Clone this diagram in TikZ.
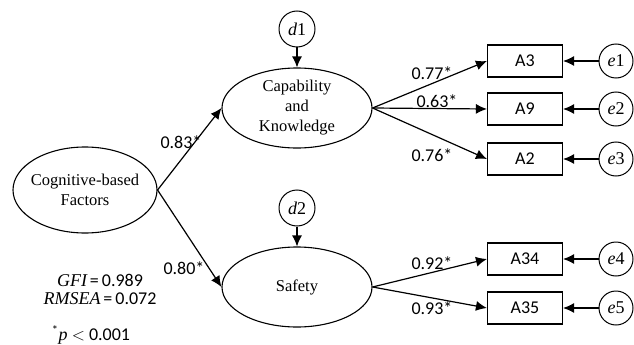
\documentclass[tikz,border=0pt]{standalone}
\usepackage{fontspec}
\setmainfont{Liberation Serif}
\newfontfamily\numfont{Carlito}
\usetikzlibrary{arrows.meta,shapes.geometric}

\tikzset{
  latent/.style={draw, ellipse, line width=1.1pt, inner xsep=-5pt, inner ysep=-3pt, align=center,
    font=\fontsize{16.5}{20}\selectfont},
  item/.style={draw, rectangle, line width=1.1pt, minimum width=75pt, minimum height=32pt,
    inner sep=0pt, font=\numfont\fontsize{18}{20}\selectfont},
  err/.style={draw, circle, line width=1pt, minimum size=36pt, inner sep=0pt,
    font=\fontsize{18}{20}\selectfont},
  path/.style={line width=1.2pt, -{Latex[length=11pt,width=10pt]}},
  coef/.style={font=\numfont\fontsize{18}{18}\selectfont, inner sep=0pt}
}
\newcommand{\sig}[1]{#1*}

\begin{document}
\begin{tikzpicture}[x=1pt,y=-1pt]
  \useasboundingbox (0,0) rectangle (634,345);

  % latent variables
  \node[latent, minimum width=144pt, minimum height=86pt] (cog) at (85,190) {Cognitive-based\\Factors};
  \node[latent, minimum width=150pt, minimum height=80pt] (cap) at (297,108) {Capability\\and\\Knowledge};
  \node[latent, minimum width=150pt, minimum height=80pt] (saf) at (297,287) {Safety};

  % disturbances
  \node[err] (d1) at (297,29) {\itshape d\upshape 1};
  \node[err] (d2) at (297,208) {\itshape d\upshape 2};

  % indicators
  \node[item] (a3) at (525,61) {A3};
  \node[item] (a9) at (525,109) {A9};
  \node[item] (a2) at (525,159) {A2};
  \node[item] (a34) at (525,259) {A34};
  \node[item] (a35) at (525,308) {A35};

  % errors
  \node[err, minimum size=34pt] (e1) at (616,61) {\itshape e\upshape 1};
  \node[err, minimum size=34pt] (e2) at (616,109) {\itshape e\upshape 2};
  \node[err, minimum size=34pt] (e3) at (616,159) {\itshape e\upshape 3};
  \node[err, minimum size=34pt] (e4) at (616,259) {\itshape e\upshape 4};
  \node[err, minimum size=34pt] (e5) at (616,308) {\itshape e\upshape 5};

  % paths
  \draw[path] (cog.east) -- (cap.west);
  \draw[path] (cog.east) -- (saf.west);
  \draw[path] (d1) -- (cap);
  \draw[path] (d2) -- (saf);
  \draw[path] (cap.east) -- (a3.west);
  \draw[path] (cap.east) -- (a9.west);
  \draw[path] (cap.east) -- (a2.west);
  \draw[path] (saf.east) -- (a34.west);
  \draw[path] (saf.east) -- (a35.west);
  \draw[path] (e1) -- (a3);
  \draw[path] (e2) -- (a9);
  \draw[path] (e3) -- (a2);
  \draw[path] (e4) -- (a34);
  \draw[path] (e5) -- (a35);

  % coefficients
  \node[coef] (l83) at (181,142) {\sig{0.83}};
  \node[coef] (l80) at (184,268) {\sig{0.80}};
  \node[coef] (l77) at (432,73) {\sig{0.77}};
  \node[coef] (l63) at (437,101) {\sig{0.63}};
  \node[coef] (l76) at (432,155) {\sig{0.76}};
  \node[coef] (l92) at (432,263) {\sig{0.92}};
  \node[coef] (l93) at (432,308) {\sig{0.93}};

  % fit indices
  \node[coef, align=center] (fit) at (100,289) {{\rmfamily\itshape GFI}\,=\,0.989\\{\rmfamily\itshape RMSEA}\,=\,0.072};
  \node[coef] (pval) at (91,335) {\textsuperscript{*}{\rmfamily\itshape p} $<$ 0.001};
\end{tikzpicture}
\end{document}
